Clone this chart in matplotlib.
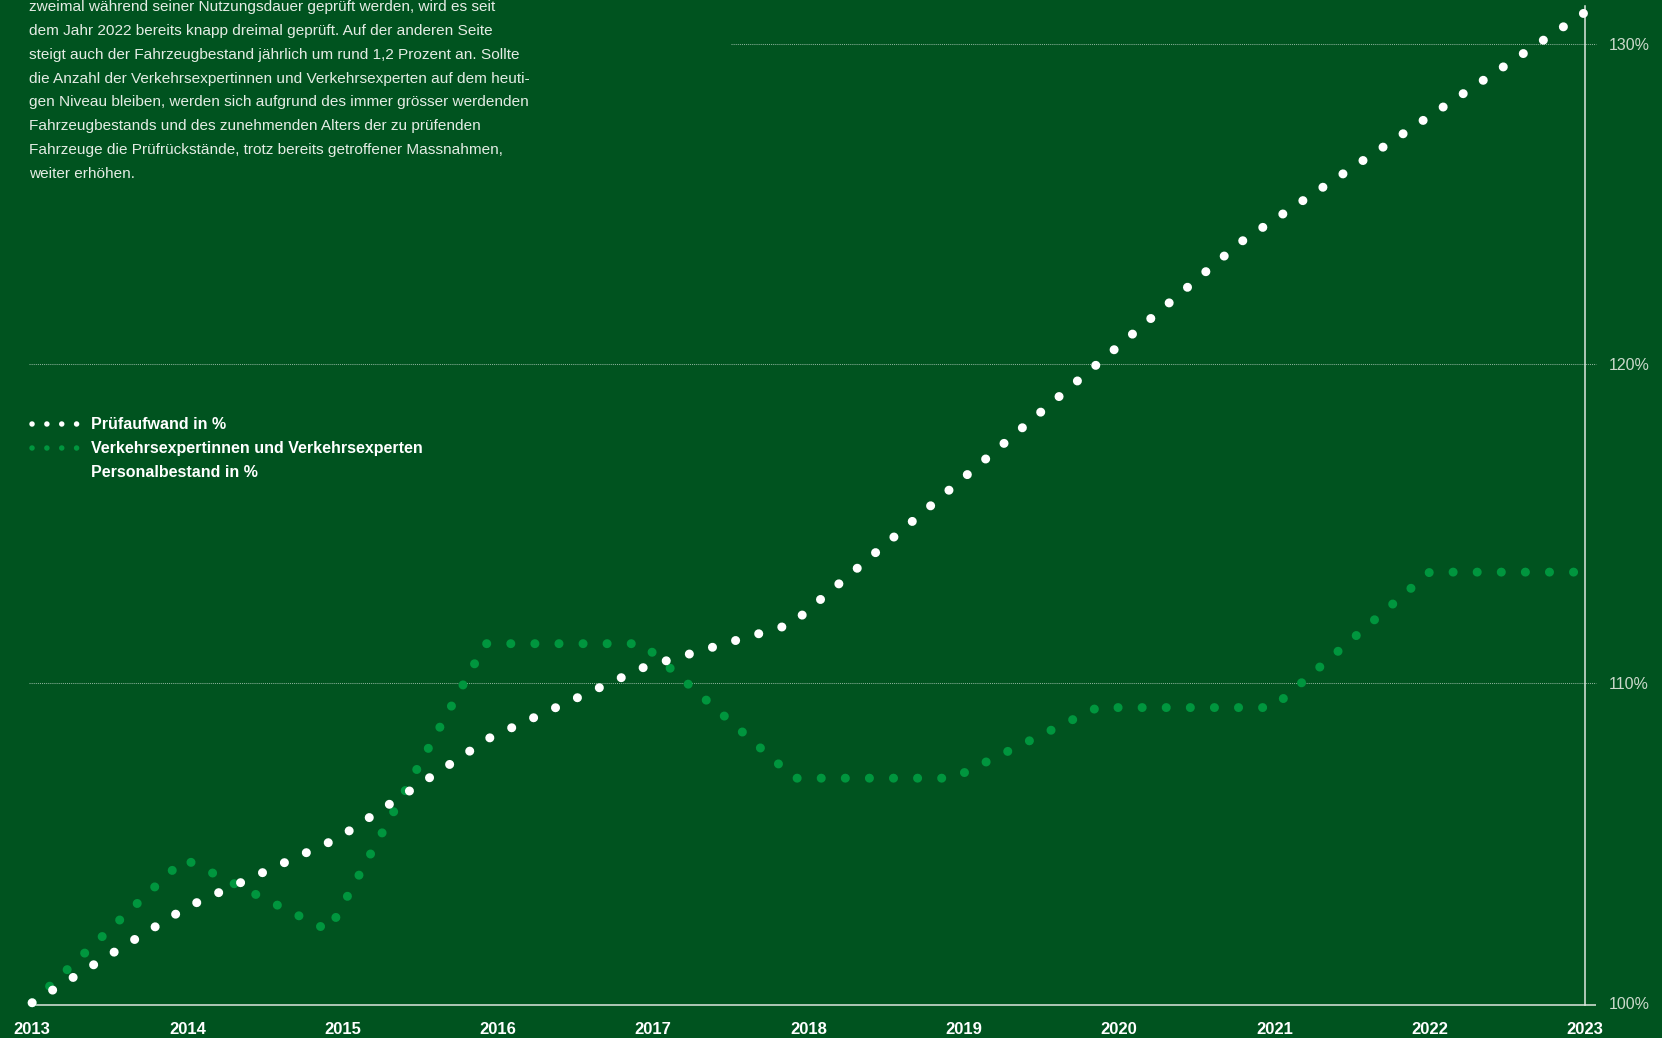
import matplotlib.pyplot as plt
from matplotlib.lines import Line2D

W, H, DPI = 1662, 1038, 100

# Prüfaufwand in % (white series)
pruef_years = [2013.0, 2014.0, 2014.97, 2015.95, 2016.94, 2017.89, 2020.78, 2023.0]
pruef_values = [100.0, 103.0, 105.15, 108.3, 110.5, 111.85, 123.8, 131.0]

# Verkehrsexpertinnen und Verkehrsexperten Personalbestand in % (green series)
personal_years = [2013.0, 2013.98, 2014.91, 2015.92, 2016.93, 2017.91,
                  2018.93, 2019.86, 2020.99, 2022.0, 2023.0]
personal_values = [100.0, 104.5, 102.26, 111.24, 111.24, 107.03,
                   107.03, 109.24, 109.24, 113.48, 113.48]

year_ticks = list(range(2013, 2024))
pct_ticks = [100, 110, 120, 130]
pct_labels = ["100%", "110%", "120%", "130%"]

legend_labels = ["Prüfaufwand in %",
                 "Verkehrsexpertinnen und Verkehrsexperten",
                 "Personalbestand in %"]

paragraph = [
    "zweimal während seiner Nutzungsdauer geprüft werden, wird es seit",
    "dem Jahr 2022 bereits knapp dreimal geprüft. Auf der anderen Seite",
    "steigt auch der Fahrzeugbestand jährlich um rund 1,2 Prozent an. Sollte",
    "die Anzahl der Verkehrsexpertinnen und Verkehrsexperten auf dem heuti-",
    "gen Niveau bleiben, werden sich aufgrund des immer grösser werdenden",
    "Fahrzeugbestands und des zunehmenden Alters der zu prüfenden",
    "Fahrzeuge die Prüfrückstände, trotz bereits getroffener Massnahmen,",
    "weiter erhöhen.",
]

BG = "#00531f"
WHITE = "#ffffff"
GREEN = "#00963e"
TEXT = "#e4ece4"
LABEL = "#cbd9cb"

plt.rcParams["font.family"] = ["Liberation Sans", "DejaVu Sans"]


def fx(px):
    return px / W


def fy(py):
    return 1 - py / H


def px_to_pt(px):
    return px * 72 / DPI


fig = plt.figure(figsize=(W / DPI, H / DPI), dpi=DPI, facecolor=BG)
ax = fig.add_axes([fx(29.3), fy(1005), fx(1585) - fx(29.3), fy(6) - fy(1005)])
ax.set_facecolor(BG)
x_left, x_right = 2012.982, 2023.0
y_bottom, y_top = 99.93, 131.2
ax.set_xlim(x_left, x_right)
ax.set_ylim(y_bottom, y_top)

# gridlines (the top one is shortened because of the text block)
grid_ext = 0.07
ax.hlines([110, 120], x_left, x_right + grid_ext, colors=WHITE, alpha=0.55,
          lw=0.75, linestyles=(0, (1, 1)), clip_on=False, zorder=1)
ax.hlines([130], 2017.5, x_right + grid_ext, colors=WHITE, alpha=0.55,
          lw=0.75, linestyles=(0, (1, 1)), clip_on=False, zorder=1)
# baseline
ax.hlines([y_bottom], x_left, x_right + grid_ext, colors="#dfe7df",
          lw=1.1, clip_on=False, zorder=2)

# dotted series
dot_px = 9.0
gap = 24.0 / dot_px
ax.plot(personal_years, personal_values, color=GREEN, lw=px_to_pt(dot_px),
        linestyle=(0, (0.01, gap)), dash_capstyle="round", clip_on=False, zorder=3)
ax.plot(pruef_years, pruef_values, color=WHITE, lw=px_to_pt(dot_px),
        linestyle=(0, (0.01, gap)), dash_capstyle="round", clip_on=False, zorder=4)

# axes styling
for side in ["top", "left", "bottom"]:
    ax.spines[side].set_visible(False)
ax.spines["right"].set_color("#dfe7df")
ax.spines["right"].set_linewidth(1.1)

ax.yaxis.tick_right()
ax.set_yticks(pct_ticks)
ax.set_yticklabels(pct_labels)
ax.tick_params(axis="y", length=0, pad=17, labelsize=11.5, labelcolor=LABEL)

ax.set_xticks(year_ticks)
ax.set_xticklabels([str(y) for y in year_ticks], fontweight="bold")
ax.tick_params(axis="x", length=0, pad=12, labelsize=12, labelcolor=WHITE)

# paragraph text at the top left (first line cut at the top edge)
for i, line in enumerate(paragraph):
    fig.text(fx(28.6), fy(10.8 + 23.9 * i), line, fontsize=11.1, color=TEXT,
             va="baseline", ha="left")

# legend
leg_dot = 5.5
leg_gap = 14.8 / leg_dot
for color, yc in [(WHITE, 424.3), (GREEN, 447.7)]:
    fig.add_artist(Line2D([fx(31.7), fx(77)], [fy(yc), fy(yc)], color=color,
                          lw=px_to_pt(leg_dot), linestyle=(0, (0.01, leg_gap)),
                          dash_capstyle="round"))
for label, yb in zip(legend_labels, [429.3, 452.7, 476.7]):
    fig.text(fx(90.7), fy(yb), label, fontsize=11.5, fontweight="bold",
             color=WHITE, va="baseline", ha="left")

fig.savefig("out.png", dpi=DPI, facecolor=BG)
